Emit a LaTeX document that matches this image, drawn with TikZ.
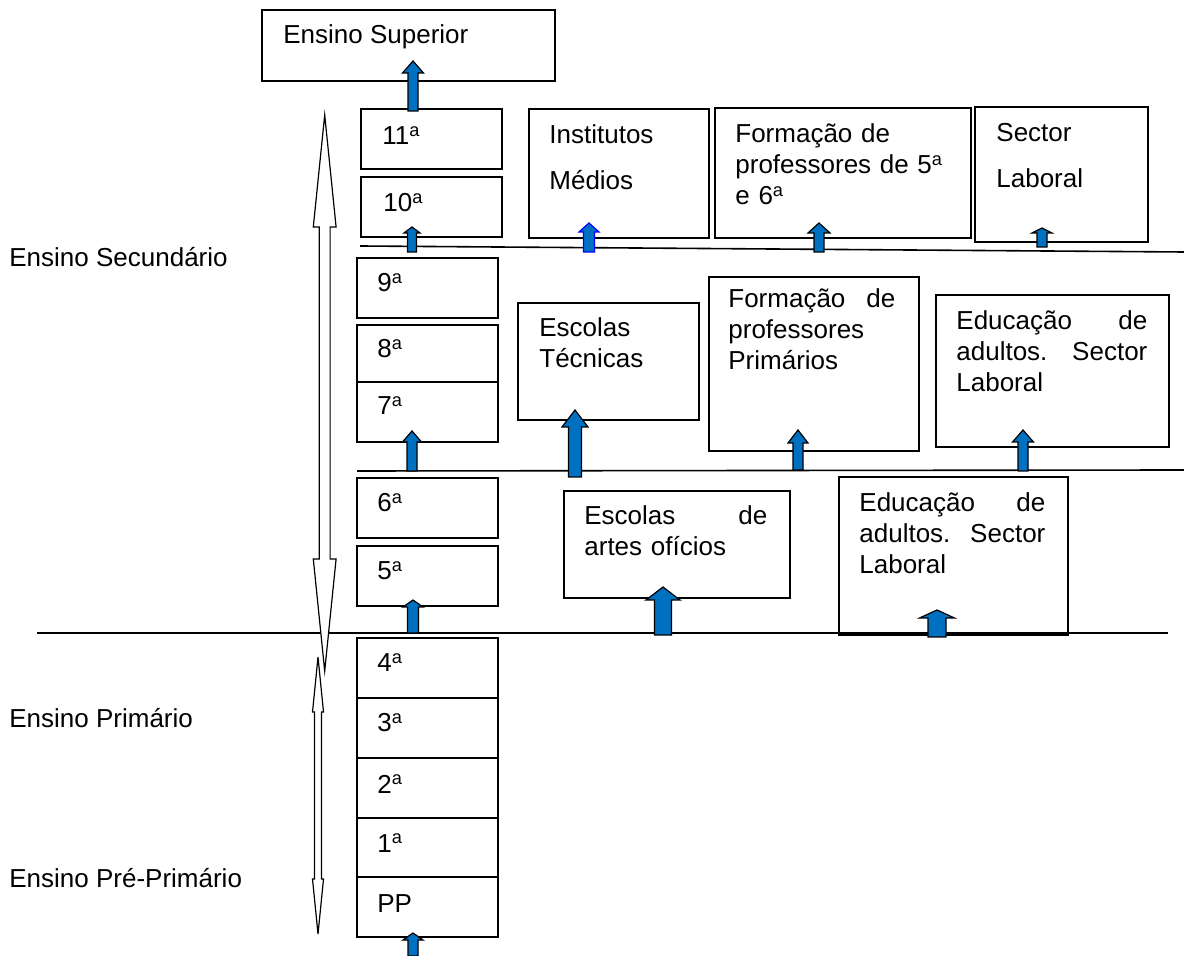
\documentclass[tikz,border=0pt]{standalone}
\usepackage{fontspec}
\setmainfont{Liberation Sans}
\usetikzlibrary{calc}
\definecolor{arrblue}{HTML}{0070C0}
\newcommand{\boxfont}{\fontsize{13pt}{15.5pt}\selectfont}
% up arrow: bottom, tip, shaft half width, head half width, head length
\newcommand{\blockup}[6][blockarr]{%
  \draw[#1] let \p1=(#2), \p2=(#3) in
    (\x1-#4,\y1) -- (\x1-#4,\y2-#6) -- (\x1-#5,\y2-#6) -- (\x1,\y2)
    -- (\x1+#5,\y2-#6) -- (\x1+#4,\y2-#6) -- (\x1+#4,\y1) -- cycle;}
% hollow two-headed arrow: top tip, bottom tip, shaft half, head half, head length
\newcommand{\dblarrow}[5]{%
  \draw[hollowarr] let \p1=(#1), \p2=(#2) in
    (\x1,\y1) -- (\x1+#4,\y1-#5) -- (\x1+#3,\y1-#5) -- (\x1+#3,\y2+#5)
    -- (\x1+#4,\y2+#5) -- (\x1,\y2) -- (\x1-#4,\y2+#5) -- (\x1-#3,\y2+#5)
    -- (\x1-#3,\y1-#5) -- (\x1-#4,\y1-#5) -- cycle;}

\begin{document}
\begin{tikzpicture}[x=0.5pt, y=-0.5pt,
    frame/.style={draw, line width=0.8pt, inner sep=0pt, anchor=north west},
    boxsize/.style 2 args={minimum width=#1*0.5pt, minimum height=#2*0.5pt},
    txt/.style={inner sep=0pt, anchor=base west, font=\boxfont},
    para/.style={txt, text width=#1*0.5pt, align=left},
    sepline/.style={line width=0.8pt},
    blockarr/.style={draw=black, line width=0.6pt, fill=arrblue},
    blockarrblue/.style={draw=blue, line width=0.6pt, fill=arrblue},
    hollowarr/.style={draw=black, line width=0.6pt, fill=white}]
    \useasboundingbox (0,0) rectangle (1184,956);

    % Level lines
    \coordinate (l1w) at (360,246);
    \coordinate (l1e) at (1184,252);
    \coordinate (l2w) at (357,471);
    \coordinate (l2e) at (1184,470);
    \coordinate (l3w) at (37,633);
    \coordinate (l3e) at (1168,633);
    \draw[sepline] (l1w) -- (l1e);
    \draw[sepline] (l2w) -- (l2e);
    \draw[sepline] (l3w) -- (l3e);

    % Grades column
    \node[frame, boxsize={293}{71}] (sup) at (261,9) {};
    \node[txt] (tsup) at (283,44) {Ensino Superior};
    \node[frame, boxsize={141}{60}] (b11) at (360,108) {};
    \node[txt] (t11) at (382,145) {11\textsuperscript{a}};
    \node[frame, boxsize={141}{60}] (b10) at (360,176) {};
    \node[txt] (t10) at (383,212) {10\textsuperscript{a}};
    \node[frame, boxsize={141}{60}] (b9) at (356,257) {};
    \node[txt] (t9) at (377,292) {9\textsuperscript{a}};
    \node[frame, boxsize={141}{57}] (b8) at (356,324) {};
    \node[txt] (t8) at (377,358) {8\textsuperscript{a}};
    \node[frame, boxsize={141}{60}] (b7) at (356,381) {};
    \node[txt] (t7) at (377,415) {7\textsuperscript{a}};
    \node[frame, boxsize={141}{60}] (b6) at (356,477) {};
    \node[txt] (t6) at (377,512) {6\textsuperscript{a}};
    \node[frame, boxsize={141}{60}] (b5) at (356,545) {};
    \node[txt] (t5) at (377,580) {5\textsuperscript{a}};
    \node[frame, boxsize={141}{60}] (b4) at (356,637) {};
    \node[txt] (t4) at (377,672) {4\textsuperscript{a}};
    \node[frame, boxsize={141}{60}] (b3) at (356,697) {};
    \node[txt] (t3) at (377,732) {3\textsuperscript{a}};
    \node[frame, boxsize={141}{60}] (b2) at (356,757) {};
    \node[txt] (t2) at (377,793) {2\textsuperscript{a}};
    \node[frame, boxsize={141}{59}] (b1) at (356,817) {};
    \node[txt] (t1) at (377,852) {1\textsuperscript{a}};
    \node[frame, boxsize={141}{60}] (bpp) at (356,876) {};
    \node[txt] (tpp) at (377,912) {PP};

    % Branches
    \node[frame, boxsize={180}{129}] (inst) at (528,108) {};
    \node[para=150] (tinst) at (549,144) {Institutos\\[7.5pt]Médios};
    \node[frame, boxsize={256}{130}] (form56) at (714,107) {};
    \node[para=230] (tform56) at (735,143) {Formação de\\professores de 5\textsuperscript{a}\\e 6\textsuperscript{a}};
    \node[frame, boxsize={173}{135}] (sect) at (974,106) {};
    \node[para=140] (tsect) at (996,142) {Sector\\[7.5pt]Laboral};
    \node[frame, boxsize={181}{117}] (esct) at (517,302) {};
    \node[para=150] (tesct) at (539,337) {Escolas\\Técnicas};
    \node[frame, boxsize={210}{174}] (formp) at (708,276) {};
    \node[para=167] (tformp) at (728,308) {Formação\hfill de\\professores\\Primários};
    \node[frame, boxsize={233}{152}] (eduA) at (935,294) {};
    \node[para=191] (teduA) at (956,330) {Educação\hfill de\\adultos.\hfill Sector\\Laboral};
    \node[frame, boxsize={226}{107}] (esca) at (563,490) {};
    \node[para=183] (tesca) at (584,525) {Escolas\hfill de\\artes ofícios};
    \node[frame, boxsize={229}{158}] (eduB) at (838,476) {};
    \node[para=186] (teduB) at (859,512) {Educação\hfill de\\adultos.\hfill Sector\\Laboral};

    % Levels
    \node[txt] (lsec) at (9,267) {Ensino Secundário};
    \node[txt] (lpri) at (9,728) {Ensino Primário};
    \node[txt] (lpre) at (9,887) {Ensino Pré-Primário};

    % Double arrows
    \coordinate (secT) at (324.7,115);
    \coordinate (secB) at (324.7,671);
    \dblarrow{secT}{secB}{2.7pt}{5.7pt}{56pt}
    \coordinate (priT) at (318,657);
    \coordinate (priB) at (318,934);
    \dblarrow{priT}{priB}{1.75pt}{2.75pt}{27.5pt}

    % Up arrows
    \coordinate (a11b) at (413,111);
    \coordinate (a11t) at (413,61);
    \blockup{a11b}{a11t}{2.5pt}{5.25pt}{6pt}
    \coordinate (a10b) at (412,252);
    \coordinate (a10t) at (412,227);
    \blockup{a10b}{a10t}{2.25pt}{4pt}{3pt}
    \coordinate (a7b) at (412,471);
    \coordinate (a7t) at (412,431);
    \blockup{a7b}{a7t}{2.5pt}{4.75pt}{5.5pt}
    \coordinate (a5b) at (413,633);
    \coordinate (a5t) at (413,600);
    \blockup{a5b}{a5t}{2.75pt}{5pt}{3.5pt}
    \coordinate (appb) at (413,956);
    \coordinate (appt) at (413,933);
    \blockup{appb}{appt}{2.5pt}{5pt}{3.5pt}
    \coordinate (ainstb) at (589,252);
    \coordinate (ainstt) at (589,223);
    \blockup[blockarrblue]{ainstb}{ainstt}{2.75pt}{5pt}{4.5pt}
    \coordinate (af56b) at (819,252);
    \coordinate (af56t) at (819,223);
    \blockup{af56b}{af56t}{2.5pt}{5.5pt}{5pt}
    \coordinate (asectb) at (1042,247);
    \coordinate (asectt) at (1042,228);
    \blockup{asectb}{asectt}{2.5pt}{5pt}{2.5pt}
    \coordinate (aesctb) at (575,477);
    \coordinate (aesctt) at (575,410);
    \blockup{aesctb}{aesctt}{3.25pt}{6.5pt}{8.5pt}
    \coordinate (aformpb) at (798,470);
    \coordinate (aformpt) at (798,430);
    \blockup{aformpb}{aformpt}{2.5pt}{5pt}{6.5pt}
    \coordinate (aeduAb) at (1023,471);
    \coordinate (aeduAt) at (1023,430);
    \blockup{aeduAb}{aeduAt}{2.5pt}{5.25pt}{6pt}
    \coordinate (aescab) at (663,635);
    \coordinate (aescat) at (663,587);
    \blockup{aescab}{aescat}{4.25pt}{8.5pt}{6.5pt}
    \coordinate (aeduBb) at (937,637);
    \coordinate (aeduBt) at (937,610);
    \blockup{aeduBb}{aeduBt}{4.5pt}{8.75pt}{4pt}
\end{tikzpicture}
\end{document}
